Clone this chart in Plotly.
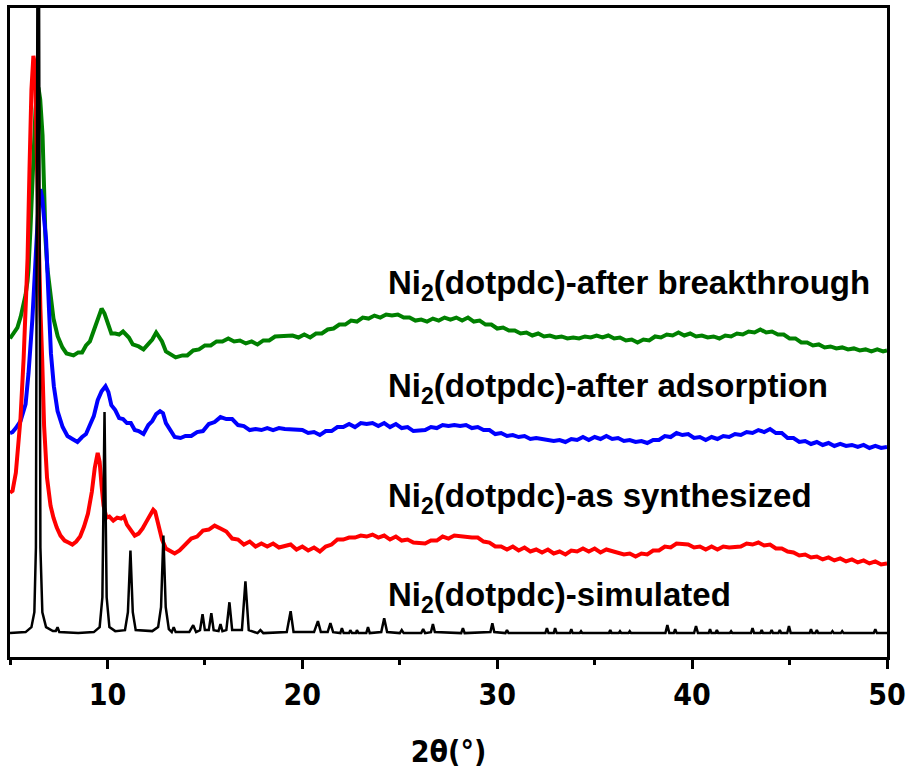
import plotly.graph_objects as go

# ---------------- PXRD patterns (offset intensities, a.u.) ----------------
sim_x = [5.0, 5.8, 6.1, 6.25, 6.33, 6.45, 6.56, 6.66, 6.85, 7.2, 7.35, 7.44, 7.53, 8.5, 9.3,
         9.6, 9.74, 9.85, 9.96, 10.1, 10.4, 10.9, 11.05, 11.18, 11.3, 11.45, 12.3, 12.6, 12.75,
         12.87, 12.99, 13.15, 13.3, 13.4, 13.5, 14.2, 14.4, 14.55, 14.75, 14.88, 15.0, 15.2,
         15.33, 15.45, 15.7, 15.8, 15.9, 16.1, 16.26, 16.4, 16.9, 17.08, 17.25, 17.7, 17.85,
         18.0, 19.2, 19.4, 19.55, 20.6, 20.8, 20.95, 21.3, 21.44, 21.58, 21.95, 22.03, 22.12,
         22.4, 22.46, 22.55, 22.75, 22.8, 22.88, 23.28, 23.37, 23.46, 24.05, 24.2, 24.35, 25.0,
         25.1, 25.2, 26.1, 26.2, 26.3, 26.6, 26.7, 26.8, 28.15, 28.24, 28.33, 29.65, 29.75,
         29.85, 30.42, 30.5, 30.58, 32.47, 32.55, 32.63, 32.9, 32.97, 33.05, 33.73, 33.8, 33.87,
         34.23, 34.3, 34.37, 35.73, 35.8, 35.87, 36.23, 36.3, 36.37, 36.73, 36.8, 36.87, 38.63,
         38.73, 38.83, 39.06, 39.13, 39.2, 40.1, 40.2, 40.3, 40.85, 40.92, 40.99, 41.2, 41.27,
         41.34, 41.93, 42.0, 42.07, 43.02, 43.1, 43.18, 43.5, 43.57, 43.64, 44.01, 44.08, 44.15,
         44.43, 44.5, 44.57, 44.88, 44.97, 45.06, 46.03, 46.1, 46.17, 46.33, 46.4, 46.47, 47.13,
         47.2, 47.27, 47.63, 47.7, 47.77, 49.32, 49.4, 49.48, 50.0]
sim_y = [24, 25, 30, 45, 110, 1000, 110, 45, 30, 26, 26, 30, 25, 24, 25,
         30, 60, 246, 60, 30, 26, 27, 45, 107, 45, 27, 26, 30, 50,
         122, 50, 28, 25, 30, 25, 25, 32, 25, 27, 43, 27, 27,
         44, 27, 26, 33, 26, 27, 55, 27, 27, 76, 27, 24, 27,
         24, 25, 46, 25, 25, 36, 25, 25, 34, 25, 24, 29, 24,
         24, 27, 24, 24, 27, 24, 24, 30, 24, 25, 39, 25, 24,
         27, 24, 24, 28, 24, 25, 33, 25, 24, 29, 24, 25, 34,
         25, 24, 27, 24, 24, 29, 24, 24, 29, 24, 24, 28, 24,
         24, 26, 24, 24, 27, 24, 24, 26, 24, 24, 26, 24, 24,
         32, 24, 24, 28, 24, 24, 31, 24, 24, 28, 24, 24, 27,
         24, 24, 26, 24, 24, 29, 24, 24, 27, 24, 24, 27, 24,
         24, 27, 24, 24, 31, 24, 24, 28, 24, 24, 27, 24, 24,
         26, 24, 24, 26, 24, 24, 28, 24, 24]

syn_x = [5.0, 5.13, 5.3, 5.54, 5.7, 5.8, 5.9, 6.0, 6.1, 6.2, 6.28, 6.36, 6.46, 6.56, 6.65, 6.75,
         6.9, 7.08, 7.23, 7.4, 7.59, 7.8, 8.0, 8.2, 8.4, 8.6, 8.8, 9.0, 9.2, 9.35, 9.5, 9.6, 9.7,
         9.8, 9.95, 10.1, 10.3, 10.5, 10.7, 10.85, 11.0, 11.2, 11.4, 11.6, 11.8, 12.0, 12.2,
         12.35, 12.45, 12.6, 12.8, 13.0, 13.2, 13.45, 13.7, 14.0, 14.3, 14.6, 14.9, 15.2, 15.5,
         15.8, 16.1, 16.4, 16.7, 17.0, 17.3, 17.6, 17.9, 18.2, 18.5, 18.8, 19.1, 19.4, 19.7,
         20.0, 20.3, 20.6, 20.9, 21.2, 21.5, 21.8, 22.1, 22.4, 22.7, 23.0, 23.3, 23.6, 23.9,
         24.2, 24.5, 24.8, 25.1, 25.4, 25.7, 26.0, 26.3, 26.6, 26.9, 27.2, 27.5, 27.8, 28.1,
         28.4, 28.7, 29.0, 29.3, 29.6, 29.9, 30.2, 30.5, 30.8, 31.1, 31.4, 31.7, 32.0, 32.3,
         32.6, 32.9, 33.2, 33.5, 33.8, 34.1, 34.4, 34.7, 35.0, 35.3, 35.6, 35.9, 36.2, 36.5,
         36.8, 37.1, 37.4, 37.7, 38.0, 38.3, 38.6, 38.9, 39.2, 39.5, 39.8, 40.1, 40.4, 40.7,
         41.0, 41.3, 41.6, 41.9, 42.2, 42.5, 42.8, 43.1, 43.4, 43.7, 44.0, 44.3, 44.6, 44.9,
         45.2, 45.5, 45.8, 46.1, 46.4, 46.7, 47.0, 47.3, 47.6, 47.9, 48.2, 48.5, 48.8, 49.1,
         49.4, 49.7, 50.0]
syn_y = [165, 167, 185, 240, 300, 340, 400, 490, 570, 604, 595, 520, 407, 350, 300, 232,
         180, 152, 140, 130, 122, 117, 115, 113, 116, 121, 131, 144, 166, 190, 205, 196, 172,
         152, 140, 141, 137, 140, 139, 141, 133, 128, 122, 124, 129, 136, 143,
         148, 146, 134, 118, 109, 107, 104, 107, 113, 119, 121, 127, 128, 132,
         129, 126, 119, 118, 113, 116, 111, 114, 111, 114, 110, 111, 113, 108,
         111, 107, 110, 106, 111, 113, 118, 118, 120, 120, 122, 121, 123, 120,
         122, 118, 121, 117, 118, 115, 115, 114, 117, 117, 121, 119, 122, 121,
         121, 120, 120, 116, 115, 111, 111, 108, 111, 107, 110, 106, 108, 105,
         108, 104, 106, 103, 107, 106, 109, 106, 109, 105, 108, 106, 105, 103,
         104, 101, 104, 103, 107, 107, 111, 110, 114, 113, 113, 110, 111, 108,
         111, 108, 111, 110, 111, 111, 114, 113, 115, 112, 113, 109, 109, 106,
         105, 102, 103, 100, 101, 98, 100, 97, 99, 96, 98, 95, 97, 94,
         96, 93, 94]

ads_x = [5.0, 5.13, 5.3, 5.54, 5.8, 5.95, 6.15, 6.31, 6.45, 6.56, 6.65, 6.75, 6.85, 7.0, 7.1,
         7.25, 7.44, 7.7, 7.95, 8.2, 8.46, 8.7, 8.9, 9.1, 9.3, 9.5, 9.7, 9.9, 10.05, 10.2,
         10.4, 10.6, 10.8, 11.0, 11.2, 11.4, 11.6, 11.85, 12.1, 12.3, 12.5, 12.7, 12.85, 13.0,
         13.2, 13.45, 13.75, 14.0, 14.3, 14.6, 14.9, 15.2, 15.5, 15.8, 16.1, 16.4, 16.7, 17.0,
         17.3, 17.6, 17.9, 18.2, 18.5, 18.8, 19.1, 19.4, 19.7, 20.0, 20.3, 20.6, 20.9, 21.2,
         21.5, 21.8, 22.1, 22.4, 22.7, 23.0, 23.3, 23.6, 23.9, 24.2, 24.5, 24.8, 25.1, 25.4,
         25.7, 26.0, 26.3, 26.6, 26.9, 27.2, 27.5, 27.8, 28.1, 28.4, 28.7, 29.0, 29.3, 29.6,
         29.9, 30.2, 30.5, 30.8, 31.1, 31.4, 31.7, 32.0, 32.3, 32.6, 32.9, 33.2, 33.5, 33.8,
         34.1, 34.4, 34.7, 35.0, 35.3, 35.6, 35.9, 36.2, 36.5, 36.8, 37.1, 37.4, 37.7, 38.0,
         38.3, 38.6, 38.9, 39.2, 39.5, 39.8, 40.1, 40.4, 40.7, 41.0, 41.3, 41.6, 41.9, 42.2,
         42.5, 42.8, 43.1, 43.4, 43.7, 44.0, 44.3, 44.6, 44.9, 45.2, 45.5, 45.8, 46.1, 46.4,
         46.7, 47.0, 47.3, 47.6, 47.9, 48.2, 48.5, 48.8, 49.1, 49.4, 49.7, 50.0]
ads_y = [225, 226, 230, 237, 254, 285, 340, 407, 450, 470, 462, 440, 420, 350, 305,
         272, 247, 231, 222, 219, 216, 221, 224, 233, 242, 258, 267, 272, 266, 253,
         248, 240, 239, 235, 235, 228, 227, 224, 233, 237, 244, 247, 245, 235,
         229, 221, 220, 222, 222, 226, 227, 234, 236, 241, 239, 239, 233, 232,
         228, 229, 228, 230, 228, 230, 229, 229, 228, 228, 225, 226, 223, 227,
         227, 231, 231, 234, 231, 235, 234, 235, 232, 235, 231, 234, 230, 231,
         227, 228, 228, 231, 230, 233, 232, 233, 232, 233, 230, 231, 228, 228,
         224, 225, 222, 223, 221, 222, 219, 220, 219, 219, 217, 218, 216, 219,
         218, 221, 218, 221, 219, 222, 219, 220, 217, 218, 216, 217, 215, 218,
         218, 222, 221, 225, 223, 224, 220, 221, 218, 221, 219, 222, 221, 224,
         223, 226, 225, 228, 226, 229, 225, 225, 220, 220, 216, 217, 214, 216,
         213, 215, 212, 214, 212, 213, 211, 213, 210, 212, 210, 211]

brk_x = [5.0, 5.2, 5.38, 5.55, 5.69, 5.8, 5.9, 5.95, 6.05, 6.15, 6.25, 6.31, 6.4, 6.46, 6.55,
         6.67, 6.75, 6.82, 6.92, 7.05, 7.23, 7.45, 7.69, 7.9, 8.1, 8.26, 8.5, 8.7, 8.9, 9.1,
         9.3, 9.5, 9.7, 9.85, 10.0, 10.2, 10.4, 10.6, 10.8, 10.95, 11.1, 11.3, 11.6, 11.85,
         12.1, 12.3, 12.5, 12.65, 12.8, 13.0, 13.2, 13.5, 13.85, 14.1, 14.4, 14.7, 15.0, 15.3,
         15.6, 15.9, 16.2, 16.5, 16.8, 17.1, 17.4, 17.7, 18.0, 18.3, 18.6, 18.9, 19.2, 19.5,
         19.8, 20.1, 20.4, 20.7, 21.0, 21.3, 21.6, 21.9, 22.2, 22.5, 22.8, 23.1, 23.4, 23.7,
         24.0, 24.3, 24.6, 24.9, 25.2, 25.5, 25.8, 26.1, 26.4, 26.7, 27.0, 27.3, 27.6, 27.9,
         28.2, 28.5, 28.8, 29.1, 29.4, 29.7, 30.0, 30.3, 30.6, 30.9, 31.2, 31.5, 31.8, 32.1,
         32.4, 32.7, 33.0, 33.3, 33.6, 33.9, 34.2, 34.5, 34.8, 35.1, 35.4, 35.7, 36.0, 36.3,
         36.6, 36.9, 37.2, 37.5, 37.8, 38.1, 38.4, 38.7, 39.0, 39.3, 39.6, 39.9, 40.2, 40.5,
         40.8, 41.1, 41.4, 41.7, 42.0, 42.3, 42.6, 42.9, 43.2, 43.5, 43.8, 44.1, 44.4, 44.7,
         45.0, 45.3, 45.6, 45.9, 46.2, 46.5, 46.8, 47.1, 47.4, 47.7, 48.0, 48.3, 48.6, 48.9,
         49.2, 49.5, 49.8, 50.0]
brk_y = [320, 325, 331, 342, 354, 364, 378, 390, 430, 477, 525, 550, 568, 572, 560,
         524, 470, 420, 390, 365, 340, 322, 311, 305, 304, 303, 306, 306, 313, 317,
         328, 339, 350, 345, 335, 325, 325, 324, 327, 324, 321, 314, 312, 309,
         315, 319, 326, 322, 317, 307, 305, 301, 303, 303, 308, 309, 313, 313,
         317, 317, 320, 317, 318, 315, 317, 314, 318, 318, 322, 322, 323, 323,
         321, 324, 321, 325, 325, 329, 330, 334, 334, 338, 337, 341, 340, 343,
         341, 344, 343, 344, 341, 341, 338, 339, 337, 340, 338, 341, 339, 341,
         338, 341, 337, 338, 334, 334, 330, 331, 328, 328, 325, 326, 323, 325,
         322, 323, 321, 322, 320, 321, 320, 322, 321, 323, 321, 323, 320, 321,
         318, 319, 316, 319, 318, 322, 321, 324, 323, 326, 323, 325, 322, 323,
         321, 322, 320, 323, 322, 325, 324, 327, 326, 329, 326, 327, 324, 324,
         320, 320, 316, 316, 313, 314, 311, 312, 310, 311, 309, 310, 308, 309,
         307, 309, 307, 308]

labels = ["Ni<sub>2</sub>(dotpdc)-after breakthrough",
          "Ni<sub>2</sub>(dotpdc)-after adsorption",
          "Ni<sub>2</sub>(dotpdc)-as synthesized",
          "Ni<sub>2</sub>(dotpdc)-simulated"]
label_y = [374, 270, 160, 60]
label_x = 24.3

x_ticks = [10, 20, 30, 40, 50]

fig = go.Figure()
for xs, ys, col in [(brk_x, brk_y, "#008000"), (ads_x, ads_y, "#0000FF"),
                    (syn_x, syn_y, "#FF0000")]:
    fig.add_trace(go.Scatter(x=xs, y=ys, mode="lines",
                             line=dict(color=col, width=4), showlegend=False))
fig.add_trace(go.Scatter(x=sim_x, y=sim_y, mode="lines",
                         line=dict(color="black", width=2.5), showlegend=False))

for txt, yy in zip(labels, label_y):
    fig.add_annotation(x=label_x, y=yy, text="<b>" + txt + "</b>", showarrow=False,
                       xanchor="left", yanchor="middle",
                       font=dict(family="Liberation Sans, Arial, sans-serif", size=33,
                                 color="black"))

narrow = "DejaVu Sans Condensed, Liberation Sans Narrow, Arial Narrow, sans-serif"
fig.update_layout(
    width=911, height=769,
    margin=dict(l=10, r=24, t=5, b=112),
    plot_bgcolor="white", paper_bgcolor="white",
    xaxis=dict(range=[5, 50], tickvals=x_ticks, ticktext=[str(v) for v in x_ticks],
               showline=True, linecolor="black", linewidth=3, mirror=True,
               ticks="outside", ticklen=9, tickwidth=3, tickcolor="black",
               minor=dict(tickvals=[5, 15, 25, 35, 45], ticks="outside", ticklen=5,
                          tickwidth=3, tickcolor="black"),
               showgrid=False, zeroline=False,
               tickfont=dict(family=narrow, size=30, color="black", weight="bold"),
               title=dict(text="<b>2θ(°)</b>", standoff=30,
                          font=dict(family=narrow, size=30, color="black"))),
    yaxis=dict(range=[0, 652], showline=True, linecolor="black", linewidth=3,
               mirror=True, showticklabels=False, ticks="", showgrid=False,
               zeroline=False),
)

fig.write_html("out.html")
